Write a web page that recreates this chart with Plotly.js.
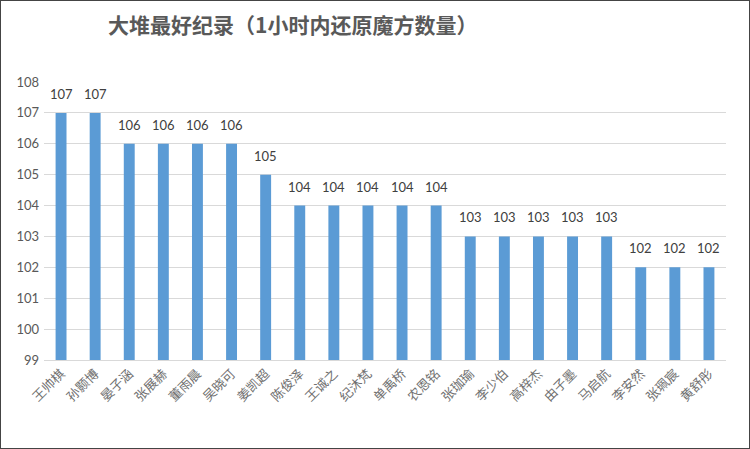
<!DOCTYPE html>
<html>
<head>
<meta charset="utf-8">
<script src="https://cdn.plot.ly/plotly-3.0.1.min.js"></script>
<style>
  html, body { margin: 0; padding: 0; background: #fff; }
  #chart { width: 748px; height: 447px; border: 1px solid #444; }
</style>
</head>
<body>
<div id="chart"></div>
<script>
var names = ['王帅棋', '孙颢博', '晏子涵', '张展赫', '董雨晨', '吴晓可', '姜凯超', '陈俊泽', '王诚之', '纪沐梵',
  '单禹桥', '农恩铭', '张珈瑜', '李少伯', '高梓杰', '由子墨', '马启航', '李安然', '张珮宸', '黄舒彤'];
var counts = [107, 107, 106, 106, 106, 106, 105, 104, 104, 104,
  104, 104, 103, 103, 103, 103, 103, 102, 102, 102];
var yTicks = [99, 100, 101, 102, 103, 104, 105, 106, 107, 108];

var data = [{
  type: 'bar',
  x: names,
  y: counts,
  width: 0.32,
  marker: { color: '#5b9bd5' },
  hoverinfo: 'none'
}];

// value labels sit a little above each bar
var labels = names.map(function (n, i) {
  return {
    x: n, y: counts[i], xref: 'x', yref: 'y',
    text: String(counts[i]), showarrow: false,
    yanchor: 'bottom', yshift: 9,
    font: { family: 'Lato, Liberation Sans, sans-serif', size: 13, color: '#404040' }
  };
});

var layout = {
  width: 748,
  height: 447,
  margin: { l: 43, r: 23, t: 81, b: 88 },
  paper_bgcolor: '#fff',
  plot_bgcolor: '#fff',
  showlegend: false,
  annotations: labels,
  title: {
    text: '<b>大堆最好纪录（1小时内还原魔方数量）</b>',
    x: 0.39,
    xanchor: 'center',
    y: 0.945,
    yanchor: 'middle',
    font: { family: 'Noto Sans CJK SC', size: 21, color: '#595959' }
  },
  xaxis: {
    tickangle: -45,
    tickfont: { family: 'Noto Sans CJK SC', size: 13, color: '#707070' },
    showline: true,
    linecolor: '#d9d9d9',
    ticks: '',
    fixedrange: true
  },
  yaxis: {
    range: [99, 108],
    tickvals: yTicks,
    gridcolor: '#d9d9d9',
    zeroline: false,
    ticks: '',
    ticklabelstandoff: 4,
    tickfont: { family: 'Lato, Liberation Sans, sans-serif', size: 13, color: '#595959' },
    fixedrange: true
  }
};

Plotly.newPlot('chart', data, layout, { displayModeBar: false, staticPlot: true });
</script>
</body>
</html>
